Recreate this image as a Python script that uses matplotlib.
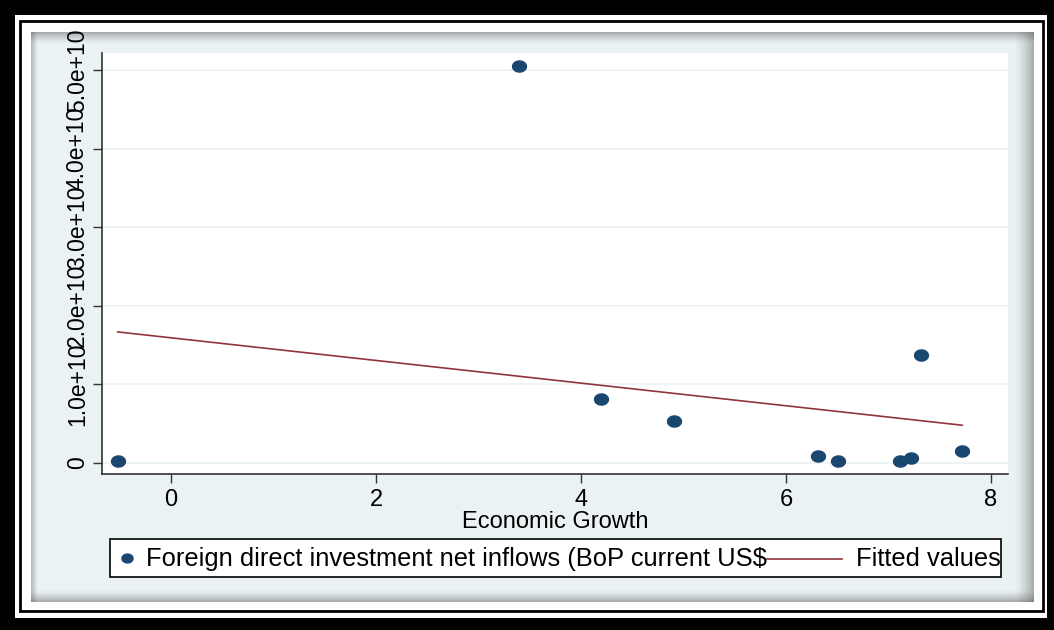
import numpy as np
import matplotlib.pyplot as plt
from matplotlib.patches import Rectangle
from matplotlib.lines import Line2D
from matplotlib.path import Path

plt.rcParams['font.family'] = ['Liberation Sans', 'DejaVu Sans']

# economic growth (%) vs FDI net inflows (current US$)
growth = [-0.52, 3.40, 4.20, 4.91, 6.31, 6.51, 7.11, 7.22, 7.32, 7.72]
fdi = [0.02e10, 5.05e10, 0.81e10, 0.53e10, 0.09e10, 0.02e10, 0.02e10, 0.06e10, 1.37e10, 0.15e10]

xticks = [0, 2, 4, 6, 8]
yticks = [0, 1e10, 2e10, 3e10, 4e10, 5e10]
ytick_labels = ['0', '1.0e+10', '2.0e+10', '3.0e+10', '4.0e+10', '5.0e+10']

navy = '#1a476f'
maroon = '#90353b'
panel_col = '#eaf2f3'

# slightly flattened dot
t = np.linspace(0, 2 * np.pi, 40)
dot = Path(np.column_stack([np.cos(t), 0.8 * np.sin(t)]), closed=True)

W, H = 1054, 630
fig = plt.figure(figsize=(W / 100, H / 100), dpi=100)
fig.patch.set_facecolor('black')

# framing drawn in pixel coordinates
bg = fig.add_axes([0, 0, 1, 1])
bg.set_xlim(0, W)
bg.set_ylim(H, 0)
bg.axis('off')
bg.add_patch(Rectangle((15, 15), 1032, 603, fc='white', ec='none'))
bg.add_patch(Rectangle((20, 21), 1023, 590, fc='none', ec='black', lw=2))
bg.add_patch(Rectangle((31, 32), 1003, 570, fc=panel_col, ec='none'))
# soft bevel shadow round the graph region
n = 12
for i in range(n):
    a = 0.45 * (1 - i / n) ** 1.5
    bg.add_patch(Rectangle((31, 32 + i), 1003, 1, fc='#555555', ec='none', alpha=a))
    bg.add_patch(Rectangle((31, 601 - i), 1003, 1, fc='#555555', ec='none', alpha=a))
for i in range(6):
    a = 0.35 * (1 - i / 6)
    bg.add_patch(Rectangle((31 + i, 32), 1, 570, fc='#555555', ec='none', alpha=a))
for i in range(20):
    a = 0.45 * (1 - i / 20) ** 1.5
    bg.add_patch(Rectangle((1033 - i, 32), 1, 570, fc='#555555', ec='none', alpha=a))

ax = fig.add_axes([102 / W, (H - 474) / H, 906 / W, 421 / H])
ax.set_facecolor('white')
ax.set_xlim(-0.673, 8.166)
ax.set_ylim(-0.14e10, 5.216e10)

for s in ['top', 'right']:
    ax.spines[s].set_visible(False)
for s in ['left', 'bottom']:
    ax.spines[s].set_color('#333333')
    ax.spines[s].set_linewidth(1.2)

ax.set_yticks(yticks)
ax.set_yticklabels(ytick_labels, rotation=90, va='center', fontsize=16.5)
ax.set_xticks(xticks)
ax.set_xticklabels([str(v) for v in xticks], fontsize=17)
ax.tick_params(axis='both', length=6.5, width=1, color='#333333', labelcolor='black')
ax.tick_params(axis='x', pad=4)
ax.tick_params(axis='y', pad=3)
ax.grid(axis='y', color=panel_col, lw=1.2)
ax.set_axisbelow(True)

ax.set_xlabel('Economic Growth', fontsize=17, labelpad=0)

ax.plot(growth, fdi, linestyle='none', marker=dot, color=navy, ms=10, mec=navy, zorder=3)

# linear fit over the observed range
b, a0 = np.polyfit(growth, fdi, 1)
xs = np.array([min(growth), max(growth)])
ax.plot(xs, a0 + b * xs, color=maroon, lw=1.2, zorder=2)

# legend box along the bottom
bg.add_patch(Rectangle((110, 539), 891, 38, fc='white', ec='black', lw=1.2))
bg.add_line(Line2D([127], [558], marker=dot, ms=8, color=navy))
bg.text(146, 559, 'Foreign direct investment net inflows (BoP current US$',
        fontsize=18.4, va='center', ha='left')
bg.add_line(Line2D([767, 842], [559, 559], color=maroon, lw=1.2))
bg.text(856, 559, 'Fitted values', fontsize=18.4, va='center', ha='left')

fig.savefig('out.png', dpi=100, facecolor=fig.get_facecolor())
